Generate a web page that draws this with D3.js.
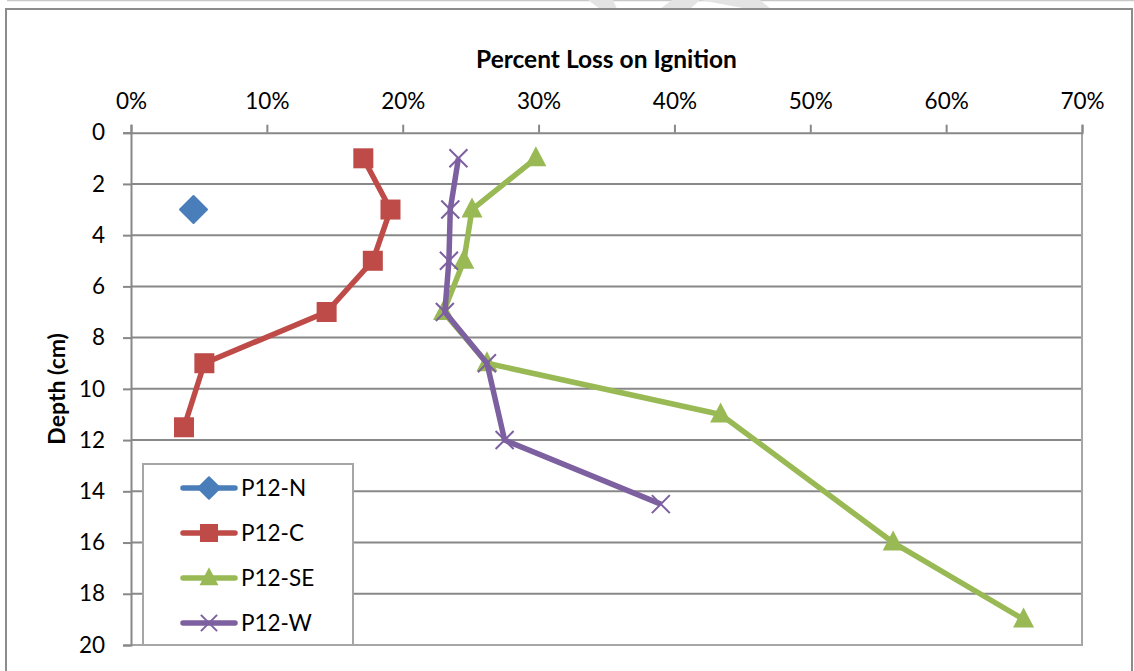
<!DOCTYPE html>
<html>
<head>
<meta charset="utf-8">
<script src="https://cdn.jsdelivr.net/npm/d3@7"></script>
<style>
  html, body { margin: 0; padding: 0; background: #fff; }
  svg { display: block; }
  text { font-family: Lato, "Open Sans", sans-serif; fill: #000; }
</style>
</head>
<body>
<svg id="chart" width="1134" height="671"></svg>
<script>
// Loss-on-ignition profiles: depth (cm) against percent organic loss
const seriesNames = ["P12-N", "P12-C", "P12-SE", "P12-W"];
const seriesColors = ["#4A7EBB", "#BE4B48", "#98B954", "#7D60A0"];
const seriesSymbols = ["diamond", "square", "triangle", "cross"];

const lossN = [0.046];
const depthN = [3];

const lossC = [0.171, 0.191, 0.178, 0.144, 0.054, 0.039];
const depthC = [1, 3, 5, 7, 9, 11.5];

const lossSE = [0.298, 0.251, 0.245, 0.230, 0.262, 0.434, 0.561, 0.657];
const depthSE = [1, 3, 5, 7, 9, 11, 16, 19];

const lossW = [0.241, 0.235, 0.234, 0.231, 0.262, 0.275, 0.390];
const depthW = [1, 3, 5, 7, 9, 12, 14.5];

const xTicks = [0, 0.1, 0.2, 0.3, 0.4, 0.5, 0.6, 0.7];
const yTicks = [0, 2, 4, 6, 8, 10, 12, 14, 16, 18, 20];

const xTitle = "Percent Loss on Ignition";
const yTitle = "Depth (cm)";

const series = [
  { name: seriesNames[0], x: lossN, y: depthN },
  { name: seriesNames[1], x: lossC, y: depthC },
  { name: seriesNames[2], x: lossSE, y: depthSE },
  { name: seriesNames[3], x: lossW, y: depthW }
].map((s, i) => ({
  ...s,
  color: seriesColors[i],
  symbol: seriesSymbols[i],
  points: s.x.map((v, j) => [v, s.y[j]])
}));

const svg = d3.select("#chart");

// page edge line and faint background shapes above the chart frame
svg.append("line")
  .attr("x1", 7).attr("x2", 1134).attr("y1", 0.5).attr("y2", 0.5)
  .attr("stroke", "#c8c8c8").attr("stroke-width", 1.5);
const shapes = svg.append("g").attr("fill", "#e3e3e3");
shapes.append("polygon").attr("points", "588,0 613,0 617,9 600,9");
shapes.append("polygon").attr("points", "660,9 672,0 760,0 771,9 748,9 700,0 690,9");

// chart frame
svg.append("rect")
  .attr("x", 6).attr("y", 9).attr("width", 1126).attr("height", 700)
  .attr("fill", "#fff").attr("stroke", "#8c8c8c").attr("stroke-width", 2);

const x = d3.scaleLinear().domain([0, 0.7]).range([131, 1082]);
const y = d3.scaleLinear().domain([0, 20]).range([132.7, 645]);

// horizontal gridlines
svg.append("g")
  .selectAll("line")
  .data(yTicks.slice(1, -1))
  .join("line")
  .attr("x1", x(0)).attr("x2", x(0.7))
  .attr("y1", d => y(d)).attr("y2", d => y(d))
  .attr("stroke", "#888").attr("stroke-width", 2);

// plot area right and bottom edges
svg.append("path")
  .attr("d", `M${x(0.7)},${y(0)}V${y(20)}H${x(0)}`)
  .attr("fill", "none").attr("stroke", "#a6a6a6").attr("stroke-width", 2);

// axes
const xAxis = svg.append("g")
  .attr("transform", `translate(0,${y(0)})`)
  .call(d3.axisTop(x).tickValues(xTicks).tickFormat(d3.format(".0%")).tickSize(8).tickPadding(16));
const yAxis = svg.append("g")
  .attr("transform", `translate(${x(0)},0)`)
  .call(d3.axisLeft(y).tickValues(yTicks).tickSize(8).tickPadding(18));
[xAxis, yAxis].forEach(a => {
  a.selectAll(".domain").attr("stroke", "#888").attr("stroke-width", 2);
  a.selectAll(".tick line").attr("stroke", "#888").attr("stroke-width", 2);
  a.selectAll(".tick text").attr("font-size", 22.5).attr("font-family", "Lato, sans-serif").attr("fill", "#000");
});

// axis titles
svg.append("text")
  .attr("x", (x(0) + x(0.7)) / 2).attr("y", 68)
  .attr("text-anchor", "middle").attr("font-weight", "bold").attr("font-size", 24.5)
  .text(xTitle);
svg.append("text")
  .attr("transform", `translate(65,${(y(0) + y(20)) / 2}) rotate(-90)`)
  .attr("text-anchor", "middle").attr("font-weight", "bold").attr("font-size", 23)
  .text(yTitle);

// marker shapes
function marker(sel, s, size) {
  const k = size / 20;
  if (s.symbol === "diamond") {
    sel.append("path").attr("d", `M0,${-13.5 * k}L${13.5 * k},0L0,${13.5 * k}L${-13.5 * k},0Z`)
      .attr("fill", s.color).attr("stroke", s.color).attr("stroke-linejoin", "round").attr("stroke-width", 2);
  } else if (s.symbol === "square") {
    sel.append("rect").attr("x", -10 * k).attr("y", -10 * k).attr("width", 20 * k).attr("height", 20 * k)
      .attr("fill", s.color);
  } else if (s.symbol === "triangle") {
    sel.append("path").attr("d", `M0,${-12 * k}L${10.5 * k},${8 * k}L${-10.5 * k},${8 * k}Z`)
      .attr("fill", s.color);
  } else {
    sel.append("path").attr("d", `M${-9 * k},${-9 * k}L${9 * k},${9 * k}M${9 * k},${-9 * k}L${-9 * k},${9 * k}`)
      .attr("stroke", s.color).attr("stroke-width", 2).attr("fill", "none");
  }
}

const line = d3.line().x(d => x(d[0])).y(d => y(d[1]));

const plot = svg.append("g");
series.forEach(s => {
  const g = plot.append("g");
  if (s.points.length > 1) {
    g.append("path").datum(s.points).attr("d", line)
      .attr("fill", "none").attr("stroke", s.color).attr("stroke-width", 5.5)
      .attr("stroke-linejoin", "round");
  }
  g.selectAll("g.pt").data(s.points).join("g").attr("class", "pt")
    .attr("transform", d => `translate(${x(d[0])},${y(d[1])})`)
    .each(function () { marker(d3.select(this), s, 20); });
});

// legend
const legend = svg.append("g");
legend.append("rect")
  .attr("x", 143).attr("y", 464).attr("width", 210).attr("height", 181)
  .attr("fill", "#fff").attr("stroke", "#a6a6a6").attr("stroke-width", 2);
series.forEach((s, i) => {
  const cy = 488 + i * 45;
  const g = legend.append("g");
  g.append("line").attr("x1", 183).attr("x2", 235).attr("y1", cy).attr("y2", cy)
    .attr("stroke", s.color).attr("stroke-width", 5.5).attr("stroke-linecap", "round");
  const m = g.append("g").attr("transform", `translate(209,${cy})`);
  marker(m, s, s.symbol === "diamond" ? 16 : 18);
  g.append("text").attr("x", 241).attr("y", cy).attr("dy", "0.35em")
    .attr("font-size", 22.5).text(s.name);
});
</script>
</body>
</html>
